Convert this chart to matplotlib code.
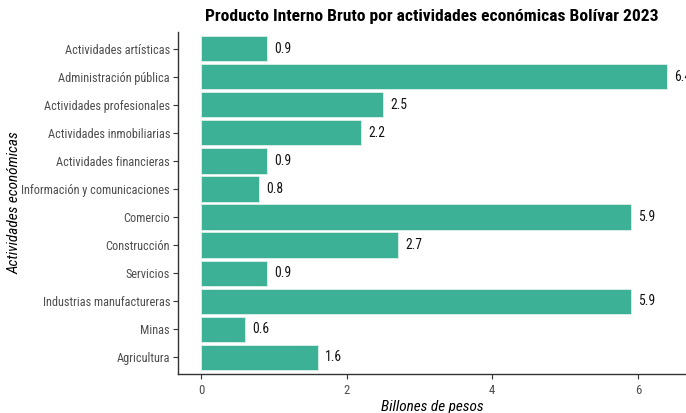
import matplotlib
matplotlib.use("Agg")
import matplotlib.pyplot as plt

sectores = ["Agricultura", "Minas", "Industrias manufactureras", "Servicios",
            "Construcción", "Comercio", "Información y comunicaciones",
            "Actividades financieras", "Actividades inmobiliarias",
            "Actividades profesionales", "Administración pública",
            "Actividades artísticas"]
valores = [1.6, 0.6, 5.9, 0.9, 2.7, 5.9, 0.8, 0.9, 2.2, 2.5, 6.4, 0.9]
ticks_x = [0, 2, 4, 6]

plt.rcParams['font.family'] = ['Roboto Condensed', 'Liberation Sans', 'DejaVu Sans']

fig = plt.figure(figsize=(6.86, 4.13), dpi=100)
ax = fig.add_axes([0.259, 0.094, 0.741, 0.829])

pos = list(range(1, len(sectores) + 1))
ax.barh(pos, valores, height=0.9, color="#3CB195", edgecolor="#DDF0EA", linewidth=0.6)
for p, v in zip(pos, valores):
    ax.text(v + 0.1, p, f"{v}", va="center", ha="left", fontsize=9.8, color="#111111")

ax.set_yticks(pos)
ax.set_yticklabels(sectores)
ax.set_xticks(ticks_x)
ax.set_xlim(-0.32, 6.66)
ax.set_ylim(0.4, 12.6)

for s in ["top", "right"]:
    ax.spines[s].set_visible(False)
for s in ["left", "bottom"]:
    ax.spines[s].set_color("#333333")
    ax.spines[s].set_linewidth(1.0)
ax.tick_params(colors="#333333", labelcolor="#4D4D4D", labelsize=9.2, length=3.5)
ax.tick_params(axis="y", labelsize=8.8, pad=2)

ax.set_xlabel("Billones de pesos", fontstyle="italic", fontsize=11, labelpad=2)
ax.set_ylabel("Actividades económicas", fontstyle="italic", fontsize=11)
ax.yaxis.set_label_coords(-0.308, 0.5)
ax.set_title("Producto Interno Bruto por actividades económicas Bolívar 2023",
             fontweight="bold", fontsize=12.6, pad=8)

fig.savefig("out.png", dpi=100)
